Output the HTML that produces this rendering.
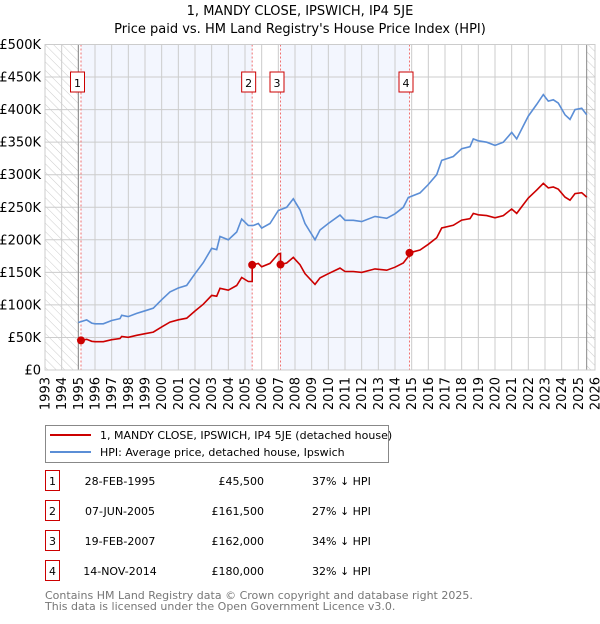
<!DOCTYPE html>
<html><head><meta charset="utf-8"><style>
body{margin:0;background:#fff;font-family:"DejaVu Sans","Liberation Sans",sans-serif;}
svg text{font-family:"DejaVu Sans","Liberation Sans",sans-serif;}
</style></head><body>
<svg id="c" width="600" height="620" xmlns="http://www.w3.org/2000/svg">
<defs><pattern id="hatch" width="6" height="6" patternUnits="userSpaceOnUse" patternTransform="rotate(-45)"><line x1="0" y1="0" x2="0" y2="6" stroke="#ccc" stroke-width="1"/></pattern></defs>
<text x="300" y="15" text-anchor="middle" font-size="13">1, MANDY CLOSE, IPSWICH, IP4 5JE</text>
<text x="300" y="33" text-anchor="middle" font-size="13">Price paid vs. HM Land Registry's House Price Index (HPI)</text>
<g id="plot"></g>
<g>
<rect x="45.5" y="425.5" width="343" height="37" fill="#fff" stroke="#888"/>
<line x1="50" y1="435" x2="91" y2="435" stroke="#cc0000" stroke-width="2"/>
<text x="100" y="439" font-size="11">1, MANDY CLOSE, IPSWICH, IP4 5JE (detached house)</text>
<line x1="50" y1="452" x2="91" y2="452" stroke="#5b8ed6" stroke-width="2"/>
<text x="100" y="456" font-size="11">HPI: Average price, detached house, Ipswich</text>
</g>
<g id="table" font-size="11"></g>
<text x="45" y="599" font-size="11" fill="#777">Contains HM Land Registry data © Crown copyright and database right 2025.</text>
<text x="45" y="610" font-size="11" fill="#777">This data is licensed under the Open Government Licence v3.0.</text>
</svg>
<script>
const hpiYears=[1995.0,1995.5,1995.8,1996.0,1996.5,1997.0,1997.5,1997.6,1998.0,1998.5,1999.0,1999.5,2000.0,2000.5,2001.0,2001.5,2002.0,2002.5,2003.0,2003.3,2003.5,2004.0,2004.5,2004.8,2005.2,2005.5,2005.8,2006.0,2006.5,2007.0,2007.5,2007.9,2008.3,2008.6,2009.2,2009.5,2010.0,2010.7,2011.0,2011.5,2012.0,2012.8,2013.5,2014.0,2014.5,2014.8,2015.5,2016.0,2016.5,2016.8,2017.5,2018.0,2018.5,2018.7,2019.0,2019.5,2020.0,2020.5,2021.0,2021.3,2021.7,2022.0,2022.5,2022.9,2023.2,2023.5,2023.8,2024.2,2024.5,2024.8,2025.2,2025.5];
const hpiValues=[73,77,72,71,71,76,79,84,82,87,91,95,108,120,126,130,148,165,187,185,205,200,212,232,222,222,225,218,225,245,250,263,246,225,200,215,225,238,230,230,228,236,233,240,250,265,272,285,300,322,328,340,343,355,352,350,345,350,365,355,375,390,408,423,413,415,410,392,385,400,402,392];
const saleDates=[1995.16,2005.43,2007.13,2014.87];
const salePrices=[45.5,161.5,162,180];
const saleLabels=["1","2","3","4"];
const saleDateText=["28-FEB-1995","07-JUN-2005","19-FEB-2007","14-NOV-2014"];
const salePriceText=["£45,500","£161,500","£162,000","£180,000"];
const saleDiffText=["37% ↓ HPI","27% ↓ HPI","34% ↓ HPI","32% ↓ HPI"];
const yTicks=[0,50,100,150,200,250,300,350,400,450,500];
const yTickLabels=["£0","£50K","£100K","£150K","£200K","£250K","£300K","£350K","£400K","£450K","£500K"];
const xYears=[1993,1994,1995,1996,1997,1998,1999,2000,2001,2002,2003,2004,2005,2006,2007,2008,2009,2010,2011,2012,2013,2014,2015,2016,2017,2018,2019,2020,2021,2022,2023,2024,2025,2026];

const NS="http://www.w3.org/2000/svg";
const X0=45,X1=595,Y0=370,Y1=44.5;
const xs=y=>X0+(y-1993)/(2026-1993)*(X1-X0);
const ys=v=>Y0-v/500*(Y0-Y1);
function mk(t,a,p){const e=document.createElementNS(NS,t);for(const k in a)e.setAttribute(k,a[k]);p.appendChild(e);return e;}
const g=document.getElementById('plot');
function hpiAt(t){for(let i=0;i<hpiYears.length-1;i++){if(t>=hpiYears[i]&&t<=hpiYears[i+1]){const f=(t-hpiYears[i])/(hpiYears[i+1]-hpiYears[i]);return hpiValues[i]+f*(hpiValues[i+1]-hpiValues[i]);}}return hpiValues[hpiValues.length-1];}
// shaded spans
for(let i=0;i<saleDates.length;i+=2){const end=i+1<saleDates.length?saleDates[i+1]:2025.5;
const r=mk('rect',{x:xs(saleDates[i]),y:Y1,width:xs(end)-xs(saleDates[i]),height:Y0-Y1,fill:'#f3f6fe'},g);

}
const h1=mk('rect',{x:X0,y:Y1,width:xs(1995)-X0,height:Y0-Y1,fill:'url(#hatch)'},g);


const h2=mk('rect',{x:xs(2025.5),y:Y1,width:X1-xs(2025.5),height:Y0-Y1,fill:'url(#hatch)'},g);


// grid
yTicks.forEach((v,i)=>{const l=mk('line',{x1:X0,x2:X1,y1:ys(v),y2:ys(v),stroke:'#ccc'},g);


const t=mk('text',{x:X0-4,y:ys(v)+4.5,'text-anchor':'end','font-size':'13'},g);t.textContent=yTickLabels[i];

});
xYears.forEach(yr=>{const l=mk('line',{x1:xs(yr),x2:xs(yr),y1:Y1,y2:Y0,stroke:'#ccc'},g);


const t=mk('text',{x:0,y:0,'text-anchor':'end','font-size':'13',transform:`translate(${xs(yr)+4.5},377) rotate(-90)`},g);t.textContent=yr;

});
mk('line',{x1:xs(1995),x2:xs(1995),y1:Y1,y2:Y0,stroke:'#888'},g);
mk('line',{x1:xs(2025.5),x2:xs(2025.5),y1:Y1,y2:Y0,stroke:'#888'},g);
// sale lines
saleDates.forEach((d,i)=>{const l=mk('line',{x1:xs(d),x2:xs(d),y1:Y1,y2:Y0,stroke:'#f07070','stroke-dasharray':'2,2'},g);


const bx=xs(d)-3.5;
const r=mk('rect',{x:bx-7,y:72,width:14,height:20,fill:'#fff',stroke:'#cc0000'},g);


const t=mk('text',{x:bx,y:87,'text-anchor':'middle','font-size':'11'},g);t.textContent=saleLabels[i];

});
// hpi line
let pts=hpiYears.map((y,i)=>xs(y).toFixed(1)+','+ys(hpiValues[i]).toFixed(1)).join(' ');
const hl=mk('polyline',{points:pts,fill:'none',stroke:'#5b8ed6','stroke-width':'1.6'},g);


// property line: sale price scaled by HPI
let rp=[];
for(let s=0;s<saleDates.length;s++){const ratio=salePrices[s]/hpiAt(saleDates[s]);const end=s+1<saleDates.length?saleDates[s+1]:2025.5;
const ts=[saleDates[s]].concat(hpiYears.filter(y=>y>saleDates[s]&&y<end));
if(s>0)rp.push(xs(saleDates[s]).toFixed(1)+','+ys(salePrices[s-1]/hpiAt(saleDates[s-1])*hpiAt(saleDates[s])).toFixed(1));
ts.forEach(t=>rp.push(xs(t).toFixed(1)+','+ys(hpiAt(t)*ratio).toFixed(1)));
if(s==saleDates.length-1)rp.push(xs(2025.5).toFixed(1)+','+ys(hpiAt(2025.5)*ratio).toFixed(1));}
const pl=mk('polyline',{points:rp.join(' '),fill:'none',stroke:'#cc0000','stroke-width':'1.6'},g);


saleDates.forEach((d,i)=>{const c=mk('circle',{cx:xs(d),cy:ys(salePrices[i]),r:4,fill:'#cc0000'},g);

});
mk('rect',{x:X0,y:Y1,width:X1-X0,height:Y0-Y1,fill:'none',stroke:'#ccc'},g);
// table
const tb=document.getElementById('table');
saleDates.forEach((d,i)=>{const y=483+i*30;
const r=mk('rect',{x:45.5,y:y-12.5,width:14,height:20,fill:'#fff',stroke:'#cc0000'},tb);


const cols=[[52.5,saleLabels[i],'middle','table-row-number'],[120,saleDateText[i],'middle','table-row-date'],[264,salePriceText[i],'end','table-row-price'],[312,saleDiffText[i],'start','table-row-hpi-diff']];
cols.forEach(c=>{const t=mk('text',{x:c[0],y:y+2,'text-anchor':c[2]},tb);t.textContent=c[1];

});});
</script>
</body></html>
